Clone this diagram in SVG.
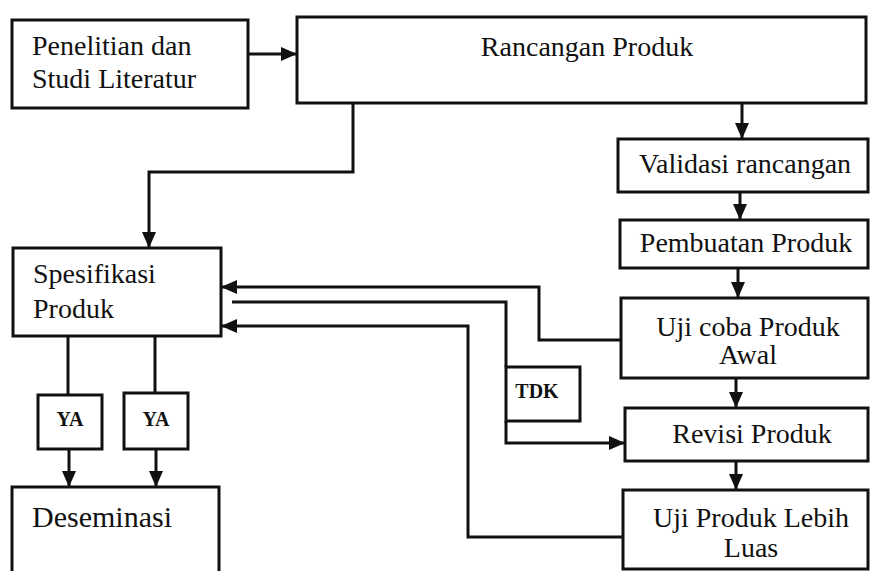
<svg xmlns="http://www.w3.org/2000/svg" width="872" height="571" viewBox="0 0 872 571">
<defs>
<marker id="ah" markerUnits="userSpaceOnUse" markerWidth="16" markerHeight="14" refX="16" refY="7" orient="auto">
<path d="M0,0 L16,7 L0,14 z" fill="#111"/>
</marker>
<style>
.box{fill:#fff;stroke:#111;stroke-width:3}
.t{font-family:"Liberation Serif","Times New Roman",serif;font-size:28px;fill:#111}
.c{text-anchor:middle}
.s{font-family:"Liberation Serif","Times New Roman",serif;font-size:20px;font-weight:bold;fill:#111;text-anchor:middle}
.ln{fill:none;stroke:#111;stroke-width:3}
.ar{marker-end:url(#ah)}
</style>
</defs>
<rect width="872" height="571" fill="#fff"/>
<g id="connectors">
<path class="ln ar" d="M248,54 H297"/>
<path class="ln ar" d="M353,103 V172 H149 V248"/>
<path class="ln ar" d="M742,103 V139"/>
<path class="ln ar" d="M740,192 V220"/>
<path class="ln ar" d="M738,268 V298"/>
<path class="ln ar" d="M736,378 V408"/>
<path class="ln ar" d="M736,461 V490"/>
<path class="ln ar" d="M621,340 H539 V287 H221"/>
<path class="ln" d="M232,302 H506 V367"/>
<path class="ln ar" d="M506,421 V443 H625"/>
<path class="ln ar" d="M623,537 H468 V326 H221"/>
<path class="ln" d="M68,336 V395"/>
<path class="ln" d="M155,336 V393"/>
<path class="ln ar" d="M69,449 V487"/>
<path class="ln ar" d="M156,449 V487"/>
</g>
<g id="n-penelitian">
<rect class="box" x="12" y="20" width="236" height="88"/>
<text class="t" x="32" y="55">Penelitian dan</text>
<text class="t" x="32" y="88">Studi Literatur</text>
</g>
<g id="n-rancangan">
<rect class="box" x="297" y="17" width="569" height="86"/>
<text class="t c" x="587" y="56">Rancangan Produk</text>
</g>
<g id="n-validasi">
<rect class="box" x="618" y="139" width="250" height="53"/>
<text class="t c" x="745" y="173">Validasi rancangan</text>
</g>
<g id="n-pembuatan">
<rect class="box" x="620" y="220" width="248" height="48"/>
<text class="t c" x="746" y="252">Pembuatan Produk</text>
</g>
<g id="n-ujicoba">
<rect class="box" x="621" y="298" width="247" height="80"/>
<text class="t c" x="748" y="336">Uji coba Produk</text>
<text class="t c" x="748" y="364">Awal</text>
</g>
<g id="n-revisi">
<rect class="box" x="625" y="408" width="243" height="53"/>
<text class="t c" x="752" y="443">Revisi Produk</text>
</g>
<g id="n-ujiluas">
<rect class="box" x="623" y="490" width="245" height="79"/>
<text class="t c" x="751" y="527">Uji Produk Lebih</text>
<text class="t c" x="751" y="557">Luas</text>
</g>
<g id="n-spesifikasi">
<rect class="box" x="13" y="248" width="208" height="88"/>
<text class="t" x="33" y="283">Spesifikasi</text>
<text class="t" x="33" y="318">Produk</text>
</g>
<g id="n-ya1">
<rect class="box" x="38" y="395" width="64" height="54"/>
<text class="s" x="70" y="426">YA</text>
</g>
<g id="n-ya2">
<rect class="box" x="124" y="393" width="64" height="56"/>
<text class="s" x="156" y="426">YA</text>
</g>
<g id="n-tdk">
<rect class="box" x="506" y="367" width="74" height="54"/>
<text class="s" x="537" y="398">TDK</text>
</g>
<g id="n-deseminasi">
<rect class="box" x="12" y="487" width="207" height="95"/>
<text class="t" x="32" y="527" style="font-size:30px">Deseminasi</text>
</g>
</svg>
